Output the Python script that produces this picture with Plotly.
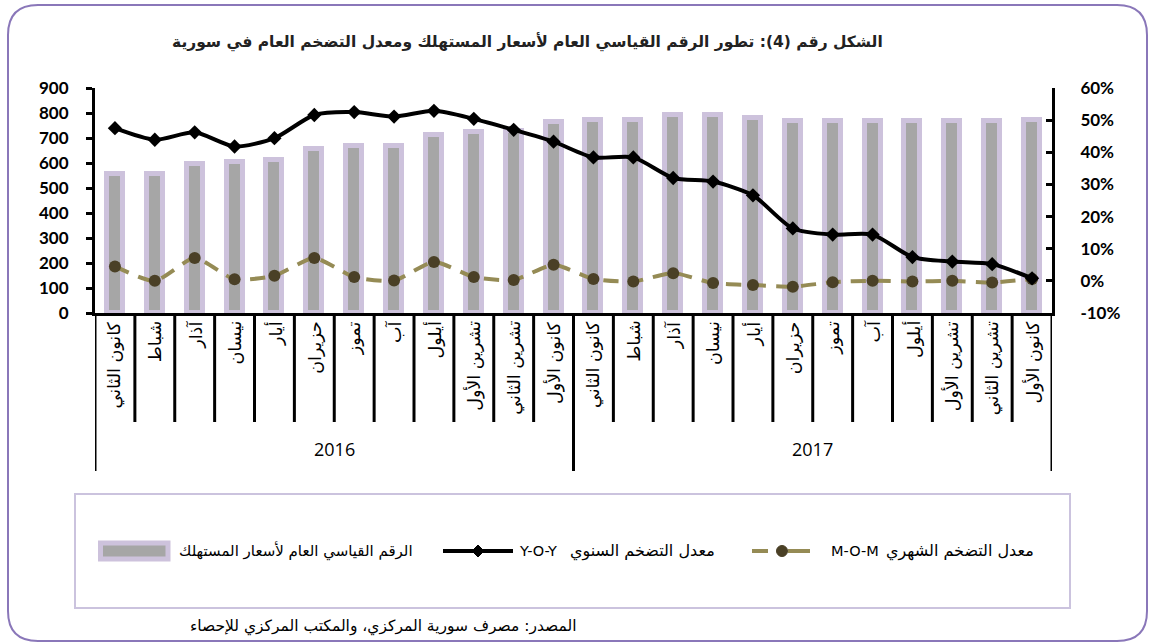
import plotly.graph_objects as go

# ---------------- data ----------------
months = ["كانون الثاني", "شباط", "آذار", "نيسان", "أيار", "حزيران",
          "تموز", "آب", "أيلول", "تشرين الأول", "تشرين الثاني", "كانون الأول"]
years = ["2016", "2017"]
cpi = [556, 557, 598, 603, 614, 658, 669, 670, 714, 723, 730, 765,
       774, 774, 793, 791, 782, 769, 767, 767, 767, 769, 767, 772]
yoy = [47.5, 43.9, 46.2, 41.8, 44.4, 51.6, 52.5, 51.1, 52.9, 50.4, 47.0, 43.3,
       38.4, 38.4, 32.0, 30.9, 26.6, 16.3, 14.4, 14.4, 7.4, 6.0, 5.2, 0.8]
mom = [4.5, 0.0, 7.1, 0.5, 1.6, 7.1, 1.2, 0.1, 5.9, 1.2, 0.3, 5.0,
       0.6, -0.2, 2.4, -0.7, -1.3, -1.8, -0.4, 0.0, -0.2, 0.0, -0.5, 0.6]
left_ticks = list(range(0, 901, 100))
right_ticks = list(range(-10, 61, 10))
right_tick_text = [f"{v}%" for v in right_ticks]

title_text = "الشكل رقم (4): تطور الرقم القياسي العام لأسعار المستهلك ومعدل التضخم العام في سورية"
name_cpi = "الرقم القياسي العام لأسعار المستهلك"
name_yoy_ar, name_yoy_en = "معدل التضخم السنوي", "Y-O-Y"
name_mom_ar, name_mom_en = "معدل التضخم الشهري", "M-O-M"
source_text = "المصدر: مصرف سورية المركزي، والمكتب المركزي للإحصاء"

# ---------------- layout geometry ----------------
W, H = 1156, 644
L, R, T, B = 95, 1052, 88, 313  # plot area in pixels


def px(x):
    return (x - L) / (R - L)


def py(y):
    return (B - y) / (B - T)


AR_FONT = "DejaVu Sans"
NUM_FONT = "Lato, Liberation Sans, sans-serif"
GRAY = "#a6a6a6"
LAV = "#cdc2dc"
OLIVE = "#958b55"
DARK = "#4a4026"

n = len(cpi)
xs = list(range(n))

fig = go.Figure()
fig.add_trace(go.Bar(
    x=xs, y=cpi, name=name_cpi, width=0.40,
    marker=dict(color=GRAY, line=dict(color=LAV, width=5)),
    showlegend=False, yaxis="y"))
fig.add_trace(go.Scatter(
    x=xs, y=mom, name=name_mom_en + " " + name_mom_ar, yaxis="y2", mode="lines+markers",
    line=dict(color=OLIVE, width=4, dash="15px,10px", shape="spline", smoothing=0.6),
    marker=dict(symbol="circle", size=12, color=DARK),
    showlegend=False))
fig.add_trace(go.Scatter(
    x=xs, y=yoy, name=name_yoy_en + " " + name_yoy_ar, yaxis="y2", mode="lines+markers",
    line=dict(color="black", width=4, shape="spline", smoothing=0.7),
    marker=dict(symbol="diamond", size=11, color="black"),
    showlegend=False))

shapes = []
annotations = []

# category dividers below the x axis
for i in range(n + 1):
    xb = i - 0.5
    long_line = (i % 12 == 0)
    shapes.append(dict(type="line", xref="x", yref="paper",
                       x0=xb, x1=xb, y0=0, y1=py(471) if long_line else py(422),
                       line=dict(color="black", width=3)))

# month labels (rotated)
for i in range(n):
    annotations.append(dict(
        x=i, y=0, xref="x", yref="paper", text=months[i % 12],
        textangle=-90, showarrow=False, xanchor="center", yanchor="top",
        yshift=-6, font=dict(family=AR_FONT, size=17.5, color="black")))

# year labels
for k, yr in enumerate(years):
    annotations.append(dict(
        x=k * 12 + 5.5, y=py(449), xref="x", yref="paper", text=yr,
        showarrow=False, xanchor="center", yanchor="middle",
        font=dict(family="Open Sans, sans-serif", size=18, color="black")))

# title
annotations.append(dict(
    x=px(527), y=py(42), xref="paper", yref="paper", text=title_text,
    showarrow=False, xanchor="center", yanchor="middle",
    font=dict(family=AR_FONT, size=15.5, color="#222222", weight="bold")))

# source
annotations.append(dict(
    x=px(578), y=py(626), xref="paper", yref="paper", text=source_text,
    showarrow=False, xanchor="right", yanchor="middle",
    font=dict(family=AR_FONT, size=15.5, color="black")))

# outer rounded frame
fx0, fx1, fy0, fy1, r = 8, 1147, 5, 641, 30
path = (f"M {px(fx0)},{py(fy0 + r)} "
        f"Q {px(fx0)},{py(fy0)} {px(fx0 + r)},{py(fy0)} "
        f"L {px(fx1 - r)},{py(fy0)} "
        f"Q {px(fx1)},{py(fy0)} {px(fx1)},{py(fy0 + r)} "
        f"L {px(fx1)},{py(fy1 - r)} "
        f"Q {px(fx1)},{py(fy1)} {px(fx1 - r)},{py(fy1)} "
        f"L {px(fx0 + r)},{py(fy1)} "
        f"Q {px(fx0)},{py(fy1)} {px(fx0)},{py(fy1 - r)} Z")
shapes.append(dict(type="path", xref="paper", yref="paper", path=path,
                   line=dict(color="#8a77b9", width=2), layer="below"))

# legend box
shapes.append(dict(type="rect", xref="paper", yref="paper",
                   x0=px(75), x1=px(1070), y0=py(494), y1=py(608),
                   line=dict(color="#cbc3de", width=2), fillcolor="rgba(0,0,0,0)"))
ly = 551
leg_font = dict(family=AR_FONT, size=15, color="black")
leg_font_ar = dict(family=AR_FONT, size=16, color="black")
leg_font_en = dict(family=AR_FONT, size=14.5, color="black")
# bar swatch
shapes.append(dict(type="rect", xref="paper", yref="paper",
                   x0=px(100.5), x1=px(168), y0=py(543), y1=py(559),
                   fillcolor=GRAY, line=dict(color=LAV, width=5)))
annotations.append(dict(x=px(177), y=py(ly), xref="paper", yref="paper",
                        text=name_cpi, showarrow=False, xanchor="left", yanchor="middle",
                        font=leg_font))
# yoy swatch
shapes.append(dict(type="line", xref="paper", yref="paper",
                   x0=px(443), x1=px(513), y0=py(ly), y1=py(ly),
                   line=dict(color="black", width=4)))
dc, dr = 478, 6
shapes.append(dict(type="path", xref="paper", yref="paper",
                   path=(f"M {px(dc - dr)},{py(ly)} L {px(dc)},{py(ly - dr)} "
                         f"L {px(dc + dr)},{py(ly)} L {px(dc)},{py(ly + dr)} Z"),
                   fillcolor="black", line=dict(color="black", width=1)))
annotations.append(dict(x=px(517), y=py(ly), xref="paper", yref="paper",
                        text=name_yoy_en, showarrow=False, xanchor="left", yanchor="middle",
                        font=leg_font_en))
annotations.append(dict(x=px(568), y=py(ly), xref="paper", yref="paper",
                        text=name_yoy_ar, showarrow=False, xanchor="left", yanchor="middle",
                        font=leg_font_ar))
# mom swatch
shapes.append(dict(type="line", xref="paper", yref="paper",
                   x0=px(752), x1=px(768), y0=py(ly), y1=py(ly),
                   line=dict(color=OLIVE, width=4)))
shapes.append(dict(type="line", xref="paper", yref="paper",
                   x0=px(788), x1=px(810), y0=py(ly), y1=py(ly),
                   line=dict(color=OLIVE, width=4)))
cr = 5.5
shapes.append(dict(type="circle", xref="paper", yref="paper",
                   x0=px(782 - cr), x1=px(782 + cr), y0=py(ly - cr), y1=py(ly + cr),
                   fillcolor=DARK, line=dict(color=DARK, width=1)))
annotations.append(dict(x=px(829), y=py(ly), xref="paper", yref="paper",
                        text=name_mom_en, showarrow=False, xanchor="left", yanchor="middle",
                        font=leg_font_en))
annotations.append(dict(x=px(884), y=py(ly), xref="paper", yref="paper",
                        text=name_mom_ar, showarrow=False, xanchor="left", yanchor="middle",
                        font=leg_font_ar))

fig.update_layout(
    width=W, height=H, autosize=False,
    margin=dict(l=L, r=W - R, t=T, b=H - B, pad=0),
    paper_bgcolor="white", plot_bgcolor="white",
    showlegend=False, bargap=0,
    xaxis=dict(range=[-0.5, n - 0.5], showticklabels=False, ticks="",
               showgrid=False, zeroline=False, showline=True,
               linecolor="black", linewidth=3, fixedrange=True),
    yaxis=dict(range=[0, 900], tickvals=left_ticks, showgrid=False, zeroline=False,
               showline=True, linecolor="black", linewidth=3,
               ticks="outside", ticklen=6, tickwidth=3, tickcolor="black",
               ticklabelstandoff=14,
               tickfont=dict(family=NUM_FONT, size=17, color="black", weight="bold")),
    yaxis2=dict(range=[-10, 60], tickvals=right_ticks, ticktext=right_tick_text,
                overlaying="y", side="right", showgrid=False, zeroline=False,
                showline=True, linecolor="black", linewidth=3,
                ticks="inside", ticklen=6, tickwidth=3, tickcolor="black",
                ticklabelstandoff=22,
                tickfont=dict(family=NUM_FONT, size=17, color="black", weight="bold")),
    shapes=shapes, annotations=annotations,
)

fig.write_html("out.html", config={"displayModeBar": False},
               post_script="document.body.style.margin='0';")
